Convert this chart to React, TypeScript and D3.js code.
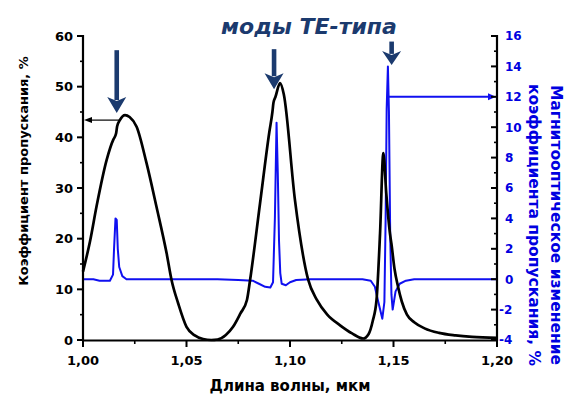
import React from "react";
import * as d3 from "d3";

// ---- data ----
const transX = [1.0, 1.0034, 1.0066, 1.0114, 1.0146, 1.0155, 1.016, 1.0165, 1.0178, 1.0203, 1.0225, 1.0259, 1.0307, 1.0355, 1.0404, 1.0428, 1.046, 1.05, 1.054, 1.058, 1.062, 1.065, 1.069, 1.0725, 1.076, 1.0792, 1.0807, 1.0855, 1.09, 1.0915, 1.092, 1.093, 1.0952, 1.097, 1.1024, 1.1087, 1.113, 1.118, 1.1242, 1.13, 1.1353, 1.138, 1.14, 1.1418, 1.1435, 1.1451, 1.1465, 1.1483, 1.149, 1.1505, 1.1522, 1.154, 1.1565, 1.16, 1.165, 1.172, 1.18, 1.188, 1.2];
const transT = [13.5, 19.5, 26.5, 35.5, 39.5, 40.2, 40.8, 42.2, 43.4, 44.4, 44.0, 42.1, 34.9, 26.3, 17.1, 11.8, 7.2, 2.6, 0.9, 0.2, 0.0, 0.1, 1.0, 2.6, 5.2, 7.9, 11.8, 26.9, 41.0, 45.0, 46.8, 48.0, 50.7, 48.5, 27.6, 12.0, 7.9, 5.0, 2.9, 1.3, 0.3, 1.2, 3.8, 7.9, 21.0, 36.9, 29.0, 21.0, 19.0, 14.0, 10.5, 7.6, 5.0, 3.5, 2.3, 1.4, 0.9, 0.6, 0.4];

const moX = [1.0, 1.005, 1.008, 1.013, 1.0145, 1.015, 1.0157, 1.0163, 1.0168, 1.0175, 1.019, 1.021, 1.065, 1.075, 1.082, 1.085, 1.088, 1.0905, 1.0918, 1.0927, 1.0935, 1.0941, 1.0947, 1.0953, 1.096, 1.098, 1.1, 1.103, 1.11, 1.135, 1.139, 1.141, 1.1425, 1.1446, 1.1456, 1.1462, 1.1467, 1.1473, 1.1478, 1.1484, 1.149, 1.1496, 1.151, 1.153, 1.156, 1.16, 1.2];
const moD = [0.0, 0.0, -0.1, -0.1, 0.3, 2.0, 4.0, 3.9, 2.0, 0.8, 0.2, 0.0, 0.0, -0.05, -0.1, -0.3, -0.5, -0.55, -0.2, 4.0, 10.3, 7.0, 2.5, 0.4, -0.3, -0.4, -0.2, -0.05, 0.0, 0.0, -0.1, -0.5, -1.4, -2.6, -1.5, 4.0, 11.2, 14.0, 11.0, 3.0, -1.0, -2.0, -0.8, -0.3, -0.1, 0.0, 0.0];

const xTicks = [1.0, 1.05, 1.1, 1.15, 1.2];
const xMinor = [1.025, 1.075, 1.125, 1.175];
const leftTicks = [0, 10, 20, 30, 40, 50, 60];
const leftMinor = [5, 15, 25, 35, 45, 55];
const rightTicks = [-4, -2, 0, 2, 4, 6, 8, 10, 12, 14, 16];
const rightMinor = [-3, -1, 1, 3, 5, 7, 9, 11, 13, 15];

// mode markers: [wavelength, top (left-axis units), tip (left-axis units)]
const modeArrows: [number, number, number][] = [
  [1.0163, 57.2, 44.8],
  [1.0923, 57.4, 49.5],
  [1.1491, 58.9, 54.3],
];
// pointer from transmission peak to left axis: [from x, level]
const leftPointer: [number, number] = [1.0178, 43.4];
// pointer from MO peak to right axis: [from x, level]
const rightPointer: [number, number] = [1.1473, 12];

const FONT = "'DejaVu Sans', 'Liberation Sans', Arial, sans-serif";
const NAVY = "#1b3a6e";
const BLUE = "#1010f0";

export default function App() {
  const W = 567, H = 398;
  const x = d3.scaleLinear().domain([1.0, 1.2]).range([83, 497]);
  const yL = d3.scaleLinear().domain([0, 60]).range([340, 36]);
  const yR = d3.scaleLinear().domain([-4, 16]).range([340, 36]);

  const tLine = d3.line<number>()
    .x((_, i) => x(transX[i]))
    .y((d) => yL(d))
    .curve(d3.curveMonotoneX)(transT) || "";
  const mLine = d3.line<number>()
    .x((_, i) => x(moX[i]))
    .y((d) => yR(d))
    .curve(d3.curveLinear)(moD) || "";

  const fmtX = (v: number) => v.toFixed(2).replace(".", ",");

  return (
    <svg width={W} height={H} style={{ position: "absolute", left: 0, top: 0, background: "#fff" }}
      fontFamily={FONT}>
      <rect width={W} height={H} fill="#fff" />
      {/* curves */}
      <path d={mLine} fill="none" stroke={BLUE} strokeWidth={2} strokeLinejoin="round" />
      <path d={tLine} fill="none" stroke="#000" strokeWidth={2.7} strokeLinejoin="round" />

      {/* pointer lines */}
      <line x1={x(leftPointer[0])} x2={x(1.0) + 6} y1={yL(leftPointer[1])} y2={yL(leftPointer[1])} stroke="#000" strokeWidth={1.2} />
      <path d={`M${x(1.0) + 1},${yL(leftPointer[1])} l8,-3 l0,6 z`} fill="#000" />
      <line x1={x(rightPointer[0])} x2={x(1.2) - 6} y1={yR(rightPointer[1])} y2={yR(rightPointer[1])} stroke={BLUE} strokeWidth={2} />
      <path d={`M${x(1.2) - 1},${yR(rightPointer[1])} l-8,-3.5 l0,7 z`} fill={BLUE} />

      {/* axes */}
      <line x1={83} x2={83} y1={35} y2={341} stroke="#000" strokeWidth={2.2} />
      <line x1={82} x2={498} y1={340.5} y2={340.5} stroke="#000" strokeWidth={2.2} />
      <line x1={497} x2={497} y1={35} y2={341} stroke="#000" strokeWidth={2.2} />

      {/* left ticks */}
      {leftTicks.map((v) => (
        <g key={"l" + v}>
          <line x1={77} x2={83} y1={yL(v)} y2={yL(v)} stroke="#000" strokeWidth={2} />
          <text x={73} y={yL(v)} dy="0.36em" textAnchor="end" fontSize={13} fontWeight="bold">{v}</text>
        </g>
      ))}
      {leftMinor.map((v) => (
        <line key={"lm" + v} x1={80} x2={83} y1={yL(v)} y2={yL(v)} stroke="#000" strokeWidth={1.6} />
      ))}

      {/* bottom ticks */}
      {xTicks.map((v) => (
        <g key={"x" + v}>
          <line x1={x(v)} x2={x(v)} y1={340} y2={347} stroke="#000" strokeWidth={2} />
          <text x={x(v)} y={365} textAnchor="middle" fontSize={13} fontWeight="bold">{fmtX(v)}</text>
        </g>
      ))}
      {xMinor.map((v) => (
        <line key={"xm" + v} x1={x(v)} x2={x(v)} y1={340} y2={344} stroke="#000" strokeWidth={1.6} />
      ))}

      {/* right ticks */}
      {rightTicks.map((v) => (
        <g key={"r" + v}>
          <line x1={491} x2={497} y1={yR(v)} y2={yR(v)} stroke="#000" strokeWidth={2} />
          <text x={v < 0 ? 499 : 505} y={yR(v)} dy="0.36em" textAnchor="start" fontSize={12} fontWeight="bold" fill="#0000e0">
            {v < 0 ? "-" + Math.abs(v) : v}
          </text>
        </g>
      ))}
      {rightMinor.map((v) => (
        <line key={"rm" + v} x1={494} x2={497} y1={yR(v)} y2={yR(v)} stroke="#000" strokeWidth={1.6} />
      ))}

      {/* axis titles */}
      <text x={290} y={391} textAnchor="middle" fontSize={15} fontWeight="bold">Длина волны, мкм</text>
      <text transform="translate(28,171) rotate(-90)" textAnchor="middle" fontSize={13} fontWeight="bold">
        Коэффициент пропускания, %
      </text>
      <text transform="translate(551,225) rotate(90)" textAnchor="middle" fontSize={15.5} fontWeight="bold" fill="#0000e0">
        Магнитооптическое изменение
      </text>
      <text transform="translate(529,225) rotate(90)" textAnchor="middle" fontSize={15.5} fontWeight="bold" fill="#0000e0">
        коэффициента пропускания, %
      </text>

      {/* title */}
      <text x={309} y={34} textAnchor="middle" fontSize={22} fontWeight="bold" fontStyle="italic" fill={NAVY}>
        моды TE-типа
      </text>

      {/* mode arrows */}
      {modeArrows.map(([wx, top, tip], i) => {
        const cx = x(wx), y0 = yL(top), y1 = yL(tip);
        const headH = Math.min(16, (y1 - y0) * 0.6);
        const hw = 9.5;
        return (
          <g key={"a" + i} fill={NAVY}>
            <rect x={cx - 2.3} y={y0} width={4.6} height={y1 - y0 - headH + 3} />
            <path d={`M${cx - hw},${y1 - headH} L${cx},${y1 - headH + 4} L${cx + hw},${y1 - headH} L${cx},${y1} Z`} />
          </g>
        );
      })}
    </svg>
  );
}
